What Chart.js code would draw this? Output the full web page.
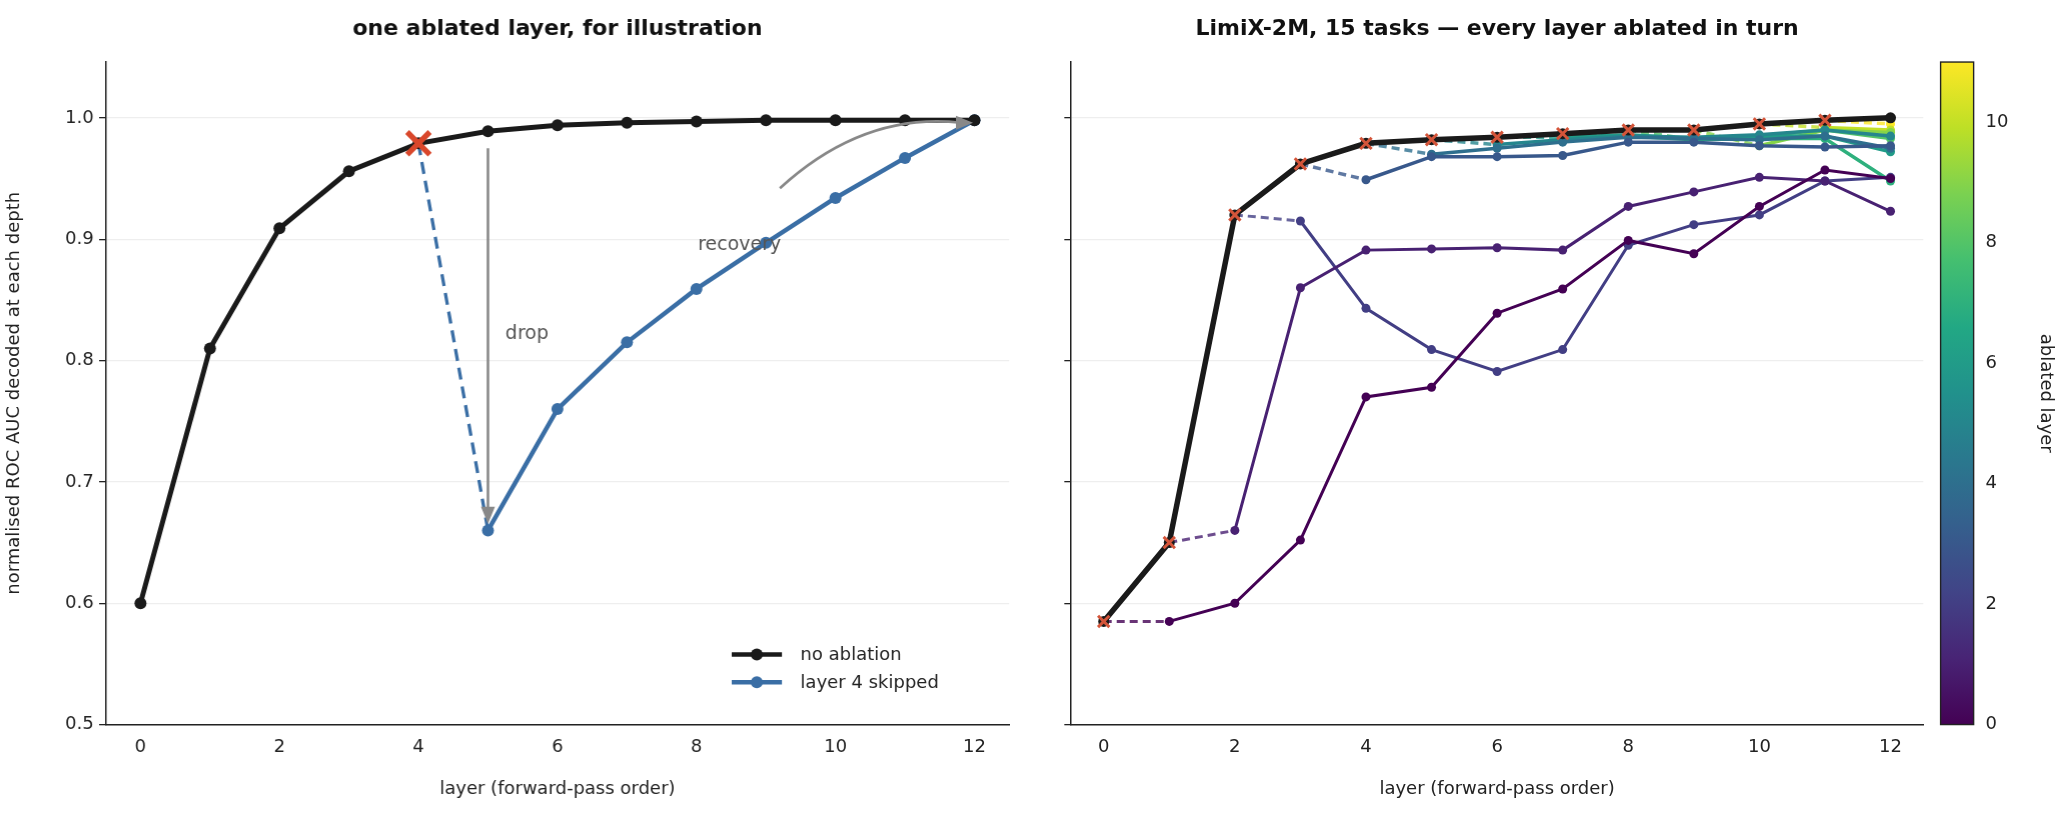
<!DOCTYPE html>
<html><head><meta charset="utf-8">
<script src="https://cdn.jsdelivr.net/npm/chart.js@4.4.1/dist/chart.umd.min.js"></script>
<style>
body{margin:0;background:#fff;width:2070px;height:813px;overflow:hidden;position:relative}
.p{position:absolute;top:0;height:813px}
</style></head><body>
<div class="p" id="c1"><canvas id="a"></canvas></div>
<div class="p" id="c2"><canvas id="b"></canvas></div>
<div class="p" id="c3"><canvas id="c"></canvas></div>
<script>
const layers = [0,1,2,3,4,5,6,7,8,9,10,11,12];
const yTicks = [0.5,0.6,0.7,0.8,0.9,1.0];
const xTicks = [0,2,4,6,8,10,12];
// left panel
const leftNoAblation = [0.600,0.810,0.909,0.956,0.979,0.989,0.994,0.996,0.997,0.998,0.998,0.998,0.998];
const leftSkip4 = [null,null,null,null,0.979,0.660,0.760,0.815,0.859,0.897,0.934,0.967,0.998];
const leftAblated = 4;
// right panel
const rightBaseline = [0.585,0.650,0.920,0.962,0.979,0.982,0.984,0.987,0.990,0.990,0.995,0.998,1.000];
const ablatedRuns = [
 [0.585,0.585,0.600,0.652,0.770,0.778,0.839,0.859,0.899,0.888,0.927,0.957,0.950],
 [null,0.650,0.660,0.860,0.891,0.892,0.893,0.891,0.927,0.939,0.951,0.948,0.923],
 [null,null,0.920,0.915,0.843,0.809,0.791,0.809,0.895,0.912,0.920,0.948,0.951],
 [null,null,null,0.962,0.949,0.968,0.968,0.969,0.980,0.980,0.977,0.976,0.977],
 [null,null,null,null,0.979,0.970,0.975,0.980,0.984,0.983,0.982,0.985,0.975],
 [null,null,null,null,null,0.982,0.978,0.982,0.985,0.984,0.986,0.990,0.985],
 [null,null,null,null,null,null,0.984,0.984,0.986,0.983,0.985,0.985,0.972],
 [null,null,null,null,null,null,null,0.987,0.985,0.982,0.983,0.983,0.948],
 [null,null,null,null,null,null,null,null,0.990,0.982,0.985,0.990,0.983],
 [null,null,null,null,null,null,null,null,null,0.990,0.977,0.990,0.988],
 [null,null,null,null,null,null,null,null,null,null,0.995,0.992,0.990],
 [null,null,null,null,null,null,null,null,null,null,null,0.998,0.995]
];
const cbarTicks = [0,2,4,6,8,10];

const S = 2070/1568;
const FONT = "'DejaVu Sans', sans-serif";
[['c1',0,780],['c2',780,685],['c3',1465,103]].forEach(([id,l,w])=>{const d=document.getElementById(id);d.style.left=(l*S)+'px';d.style.width=(w*S)+'px';});
const viridis = ['#440154','#482475','#414487','#355f8d','#2a788e','#21918c','#22a884','#44bf70','#7ad151','#bddf26','#fde725'];
function hex(h){return [1,3,5].map(i=>parseInt(h.substr(i,2),16));}
function vcol(t){const s=t*10,i=Math.min(9,Math.floor(s)),f=s-i;const a=hex(viridis[i]),b=hex(viridis[i+1]);return 'rgb('+a.map((v,j)=>Math.round(v+(b[j]-v)*f)).join(',')+')';}

Chart.defaults.font.family = FONT;
Chart.defaults.color = '#222';
Chart.defaults.animation = false;
Chart.defaults.responsive = true;
Chart.defaults.maintainAspectRatio = false;
const F = n=>Math.round(n*S);

function xScale(){return {type:'linear',min:-0.5,max:12.5,
  afterBuildTicks:s=>{s.ticks=xTicks.map(v=>({value:v}));},
  afterFit:s=>{s.height=60*S;},
  grid:{display:false,drawTicks:true,tickLength:5*S,tickColor:'#222'},
  border:{color:'#222',width:1.5},
  ticks:{font:{size:F(13.5)},color:'#222',padding:4*S,maxRotation:0},
  title:{display:true,text:'layer (forward-pass order)',font:{size:F(14)},color:'#222',padding:{top:3*S}}};}
function yScale(w,labels,title){return {type:'linear',min:0.5,max:1.046,
  afterBuildTicks:s=>{s.ticks=yTicks.map(v=>({value:v}));},
  afterFit:s=>{s.width=w*S;},
  grid:{color:'#eeeeee',lineWidth:1.3,drawTicks:true,tickLength:5*S,tickColor:'#222'},
  border:{color:'#222',width:1.5},
  ticks:{display:true,font:{size:F(13.5)},color:labels?'#222':'rgba(0,0,0,0)',padding:4*S,callback:v=>v.toFixed(1)},
  title:{display:!!title,text:title||'',font:{size:F(14)},color:'#222',padding:{bottom:4*S}}};}

function titlePlugin(text){return {id:'t',afterDraw(c){const g=c.ctx;g.save();g.font="bold "+F(16.5)+"px "+FONT;g.fillStyle='#111';g.textAlign='center';g.textBaseline='middle';g.fillText(text,(c.chartArea.left+c.chartArea.right)/2,22*S);g.restore();}};}

const annot = {id:'annot',afterDatasetsDraw(c){
  const g=c.ctx,x=c.scales.x,y=c.scales.y;g.save();
  g.strokeStyle='#888';g.fillStyle='#888';g.lineWidth=2.6;
  const ax=x.getPixelForValue(5),y0=y.getPixelForValue(0.975),y1=y.getPixelForValue(0.672);
  g.beginPath();g.moveTo(ax,y0);g.lineTo(ax,y1-2);g.stroke();
  g.beginPath();g.moveTo(ax,y1+8);g.lineTo(ax-7,y1-9);g.lineTo(ax+7,y1-9);g.closePath();g.fill();
  const sx=x.getPixelForValue(9.2),sy=y.getPixelForValue(0.942),ex=x.getPixelForValue(11.95),ey=y.getPixelForValue(0.996);
  g.beginPath();g.moveTo(sx,sy);g.quadraticCurveTo(x.getPixelForValue(10.4),y.getPixelForValue(1.005),ex-10,ey);g.stroke();
  g.beginPath();g.moveTo(ex+2,ey);g.lineTo(ex-15,ey-7);g.lineTo(ex-15,ey+7);g.closePath();g.fill();
  g.font=F(14.5)+'px '+FONT;g.fillStyle='#555';g.textBaseline='middle';g.textAlign='left';
  g.fillText('drop',x.getPixelForValue(5.25),y.getPixelForValue(0.822));
  g.fillText('recovery',x.getPixelForValue(8.02),y.getPixelForValue(0.895));
  const lx=c.chartArea.right-210*S,ly=c.chartArea.bottom-53*S;
  [['no ablation','#1a1a1a'],['layer 4 skipped','#3a6ea5']].forEach((e,i)=>{
    const yy=ly+i*21*S;g.strokeStyle=e[1];g.fillStyle=e[1];g.lineWidth=4.5;
    g.beginPath();g.moveTo(lx,yy);g.lineTo(lx+38*S,yy);g.stroke();
    g.beginPath();g.arc(lx+19*S,yy,6,0,7);g.fill();
    g.fillStyle='#222';g.font=F(14)+'px '+FONT;g.fillText(e[0],lx+52*S,yy+1);});
  g.restore();}};

new Chart(document.getElementById('a'),{type:'line',
 data:{labels:layers,datasets:[
  {data:[{x:leftAblated,y:leftNoAblation[leftAblated]}],showLine:false,pointStyle:'crossRot',pointRadius:16,borderWidth:5.5,borderColor:'#d9472b',order:0},
  {data:layers.map((l,i)=>({x:l,y:leftNoAblation[i]})),borderColor:'#1a1a1a',backgroundColor:'#1a1a1a',borderWidth:5,pointRadius:6,pointBorderWidth:0,order:1},
  {data:layers.map((l,i)=>({x:l,y:leftSkip4[i]})),borderColor:'#3a6ea5',backgroundColor:'#3a6ea5',borderWidth:4.5,
   pointRadius:ctx=>ctx.dataIndex===leftAblated?0:6,pointBorderWidth:0,
   segment:{borderDash:s=>s.p0.parsed.x===leftAblated?[12,7]:undefined,borderWidth:s=>s.p0.parsed.x===leftAblated?3.3:4.5},order:2}
 ]},
 options:{layout:{padding:{top:47*S,right:10*S,bottom:(613-546-60)*S,left:0}},
  plugins:{legend:{display:false},tooltip:{enabled:false}},
  scales:{x:xScale(),y:yScale(80,true,'normalised ROC AUC decoded at each depth')}},
 plugins:[annot,titlePlugin('one ablated layer, for illustration')]});

const rds=[];
rds.push({data:layers.slice(0,12).map(l=>({x:l,y:rightBaseline[l]})),showLine:false,pointStyle:'crossRot',pointRadius:8,borderWidth:3,borderColor:'#d4553a',order:0});
rds.push({data:layers.map(l=>({x:l,y:rightBaseline[l]})),borderColor:'#1a1a1a',backgroundColor:'#1a1a1a',borderWidth:5.5,pointRadius:5.5,pointBorderWidth:0,order:1});
ablatedRuns.forEach((run,k)=>{const col=vcol(k/11);
 rds.push({data:layers.map(l=>({x:l,y:run[l]})),borderColor:col,backgroundColor:col,borderWidth:k<3?3:3.5,
  pointRadius:ctx=>ctx.dataIndex===k?0:4.5,pointBorderWidth:0,spanGaps:false,
  segment:{borderDash:s=>s.p0.parsed.x===k?[8,5]:undefined,borderColor:s=>s.p0.parsed.x===k?col.replace('rgb','rgba').replace(')',',0.8)'):col},
  order:2+k});});
new Chart(document.getElementById('b'),{type:'line',data:{datasets:rds},
 options:{layout:{padding:{top:47*S,right:5*S,bottom:(613-546-60)*S,left:0}},
  plugins:{legend:{display:false},tooltip:{enabled:false}},
  scales:{x:xScale(),y:yScale(31,false,null)}},
 plugins:[titlePlugin('LimiX-2M, 15 tasks — every layer ablated in turn')]});

const cbar={id:'cbar',beforeDatasetsDraw(c){const a=c.chartArea,g=c.ctx;const gr=g.createLinearGradient(0,a.bottom,0,a.top);
 viridis.forEach((v,i)=>gr.addColorStop(i/10,v));g.fillStyle=gr;g.fillRect(a.left,a.top,a.right-a.left,a.bottom-a.top);
 g.strokeStyle='#222';g.lineWidth=1.4;g.strokeRect(a.left,a.top,a.right-a.left,a.bottom-a.top);}};
new Chart(document.getElementById('c'),{type:'scatter',data:{datasets:[{data:[]}]},
 options:{layout:{padding:{top:47*S,left:5*S,bottom:(613-546)*S,right:0}},
  plugins:{legend:{display:false},tooltip:{enabled:false}},
  scales:{x:{display:false,min:0,max:1},
   y:{position:'right',min:0,max:11,afterBuildTicks:s=>{s.ticks=cbarTicks.map(v=>({value:v}));},
    afterFit:s=>{s.width=73*S;},grid:{display:false,drawTicks:true,tickLength:5*S,tickColor:'#222'},border:{display:false},
    ticks:{font:{size:F(13.5)},color:'#222',padding:4*S},
    title:{display:true,text:'ablated layer',font:{size:F(14)},color:'#222',padding:{top:10*S}}}}},
 plugins:[cbar]});
</script></body></html>
